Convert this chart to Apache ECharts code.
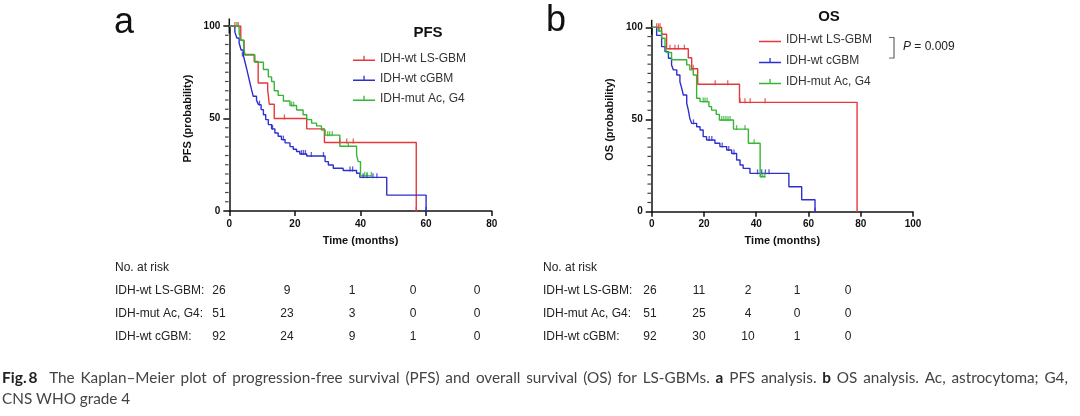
<!DOCTYPE html>
<html>
<head>
<meta charset="utf-8">
<script src="https://cdn.jsdelivr.net/npm/echarts@6.0.0/dist/echarts.min.js"></script>
<style>
  html, body { margin: 0; padding: 0; background: #fff; }
  #chart { width: 1080px; height: 416px; }
</style>
</head>
<body>
<div id="chart"></div>
<script>
// ---- data (months, % survival) ----
const groups = ['IDH-wt LS-GBM', 'IDH-wt cGBM', 'IDH-mut Ac, G4']

// PFS (panel a)
const pfsMonthsLs = [0, 3.5, 4.5, 7.6, 8.8, 11.7, 12.2, 13.7, 23.6, 29.0, 57.0]
const pfsSurvLs = [100, 92.3, 84.6, 80.8, 69.2, 65.4, 57.7, 50.0, 44.4, 37.0, 0]
const pfsCensLs = [[1.7, 100], [2.7, 100], [16.8, 50], [33.7, 37], [35.8, 37], [37.8, 37], [57.0, 0]]

const pfsMonthsCg = [0, 1.7, 2.3, 3.0, 3.6, 4.3, 4.8, 5.3, 5.8, 6.3, 6.8, 7.3, 8.3, 8.9, 9.7, 10.4, 11.1, 11.9, 12.9, 13.9, 14.9, 15.9, 17.0, 18.5, 19.5, 20.5, 21.5, 23.6, 29.2, 30.2, 31.7, 34.7, 38.8, 39.8, 48.0, 60.0]
const pfsSurvCg = [100, 96.7, 93.5, 90.8, 87.0, 84.0, 80.4, 76.8, 73.0, 69.2, 65.5, 62.0, 59.8, 57.5, 54.8, 52.0, 49.4, 46.7, 44.4, 42.2, 40.4, 38.6, 36.8, 34.8, 33.4, 32.2, 30.8, 29.7, 26.7, 24.9, 23.1, 21.9, 20.4, 18.2, 8.6, 0]
const pfsCensCg = [[4.0, 84.0], [9.2, 57.5], [13.2, 44.4], [16.5, 38.6], [22.0, 30.8], [22.6, 30.8], [23.2, 30.8], [25.0, 29.7], [28.7, 29.7], [36.8, 21.9], [37.6, 21.9], [40.8, 18.2], [42.0, 18.2], [43.8, 18.2], [45.0, 18.2], [60.0, 0]]

const pfsMonthsMut = [0, 3.0, 3.6, 4.4, 4.8, 7.8, 10.4, 11.9, 12.9, 13.7, 14.9, 16.5, 18.5, 20.5, 22.5, 23.6, 25.1, 26.6, 28.1, 29.2, 33.7, 38.8, 39.3, 40.0, 43.4]
const pfsSurvMut = [100, 96.1, 92.2, 88.2, 84.3, 80.4, 76.5, 72.5, 70.0, 65.0, 62.5, 59.5, 57.0, 54.6, 52.0, 49.4, 47.5, 46.0, 43.8, 41.0, 35.0, 30.3, 26.7, 19.0, 19.0]
const pfsCensMut = [[2.3, 100], [19.0, 57.0], [19.6, 57.0], [30.0, 41.0], [30.6, 41.0], [31.4, 41.0], [36.3, 35.0], [41.3, 19.0], [42.0, 19.0], [43.3, 19.0]]

// OS (panel b)
const osMonthsLs = [0, 3.8, 5.7, 14.0, 15.3, 17.6, 33.6, 78.6]
const osSurvLs = [100, 96.2, 88.4, 83.5, 77.5, 69.1, 59.3, 0]
const osCensLs = [[1.9, 100], [2.6, 100], [3.2, 100], [7.0, 88.4], [8.9, 88.4], [10.2, 88.4], [12.5, 88.4], [15.9, 77.5], [24.3, 69.1], [29.1, 69.1], [33.8, 59.3], [35.7, 59.3], [37.7, 59.3], [43.4, 59.3]]

const osMonthsCg = [0, 1.9, 3.8, 5.1, 6.4, 7.6, 8.3, 9.6, 10.8, 11.5, 12.1, 13.4, 14.0, 14.6, 15.3, 17.2, 18.5, 19.7, 21.0, 24.2, 26.1, 28.7, 30.6, 32.5, 33.8, 35.0, 37.6, 52.5, 57.4, 62.5]
const osSurvCg = [100, 95.6, 89.5, 86.8, 83.2, 79.6, 76.9, 74.1, 70.5, 66.9, 63.3, 58.8, 55.2, 50.6, 47.9, 46.1, 44.3, 40.7, 38.9, 37.1, 35.3, 33.5, 31.6, 28.0, 25.3, 23.5, 20.8, 13.5, 6.5, 0]
const osCensCg = [[16.0, 47.9], [22.0, 38.9], [23.0, 38.9], [27.0, 35.3], [29.5, 33.5], [31.5, 31.6], [40.5, 20.8], [42.1, 20.8], [43.5, 20.8], [44.9, 20.8], [62.5, 0]]

const osMonthsMut = [0, 2.5, 3.8, 5.1, 5.7, 7.6, 13.4, 14.6, 15.9, 17.2, 18.5, 21.9, 22.9, 24.7, 25.9, 31.3, 37.0, 41.5, 43.5]
const osSurvMut = [100, 98.0, 94.1, 90.2, 86.3, 82.4, 79.6, 76.9, 74.1, 61.5, 59.7, 57.0, 55.1, 52.8, 49.7, 44.8, 37.1, 19.0, 19.0]
const osCensMut = [[3.0, 98.0], [19.7, 59.7], [20.4, 59.7], [21.2, 59.7], [26.8, 49.7], [27.6, 49.7], [28.4, 49.7], [29.2, 49.7], [30.0, 49.7], [32.5, 44.8], [35.7, 44.8], [39.2, 37.1], [41.8, 19.0], [42.5, 19.0], [43.3, 19.0]]

// number at risk tables
const riskLabels = ['IDH-wt LS-GBM:', 'IDH-mut Ac, G4:', 'IDH-wt cGBM:']
const pfsRisk = [[26, 9, 1, 0, 0], [51, 23, 3, 0, 0], [92, 24, 9, 1, 0]]
const osRisk = [[26, 11, 2, 1, 0], [51, 25, 4, 0, 0], [92, 30, 10, 1, 0]]

const pfsTicks = [0, 20, 40, 60, 80]
const osTicks = [0, 20, 40, 60, 80, 100]

// ---- styling ----
const colors = ['#e5383b', '#2f2fcf', '#35b535']
const FONT = '"Liberation Sans", Arial, sans-serif'
const tickIcon = 'path://M0,0h0.05v0.05h-0.05z M0,9.95h0.05v0.05h-0.05z M0,6.3h22v1.4h-22z M10.4,2.5h1.3v4.5h-1.3z'
const lineIcon = 'path://M0,0h0.05v0.05h-0.05z M0,9.95h0.05v0.05h-0.05z M0,6.3h22v1.4h-22z'

const zip = (xs, ys) => xs.map((x, i) => [x, ys[i]])
// small y ticks every 5 % (drawn as tiny rects on the y axis)
const minorTickPts = []
for (let v = 5; v < 100; v += 5) if (v !== 50) minorTickPts.push([0, v])

const makeX = (gridIndex, ticks) => ({
  type: 'value', gridIndex,
  min: 0, max: ticks[ticks.length - 1], interval: 20,
  axisLine: { lineStyle: { color: '#111', width: 1.5 } },
  axisTick: { length: 5, lineStyle: { color: '#111', width: 1.5 } },
  axisLabel: { color: '#111', fontSize: 10, fontWeight: 'bold', fontFamily: FONT, margin: 8 },
  splitLine: { show: false },
  name: 'Time (months)', nameLocation: 'middle', nameGap: 24,
  nameTextStyle: { color: '#111', fontSize: 11, fontWeight: 'bold', fontFamily: FONT }
})
// y runs 0..100; a thin rect at the top end lets the axis line poke above 100
const makeY = (gridIndex, title) => ({
  type: 'value', gridIndex, min: 0, max: 100, interval: 50,
  axisLine: {
    show: true, onZero: false, lineStyle: { color: '#111', width: 1.5 },
    symbol: ['none', 'rect'], symbolSize: [1.5, 15], symbolOffset: [0, 0]
  },
  axisTick: { show: true, length: 6, lineStyle: { color: '#111', width: 1.5 } },
  axisLabel: { color: '#111', fontSize: 10, fontWeight: 'bold', fontFamily: FONT, margin: 9 },
  splitLine: { show: false },
  name: title, nameLocation: 'middle', nameRotate: 90, nameGap: 36,
  nameTextStyle: { color: '#111', fontSize: 11, fontWeight: 'bold', fontFamily: FONT }
})

const curve = (name, gi, data, color) => ({
  name, type: 'line', xAxisIndex: gi, yAxisIndex: gi, step: 'end',
  data, showSymbol: false, symbol: 'none', color,
  lineStyle: { color, width: 1.4 }, z: 3
})
const censors = (gi, data, color) => ({
  type: 'scatter', xAxisIndex: gi, yAxisIndex: gi, data,
  symbol: 'rect', symbolSize: [1.3, 5], symbolOffset: [0, -1.5],
  itemStyle: { color }, z: 4, silent: true
})
const minorTicks = (gi) => ({
  type: 'scatter', xAxisIndex: gi, yAxisIndex: gi, data: minorTickPts,
  symbol: 'rect', symbolSize: [3.5, 1.2], symbolOffset: [-2.5, 0],
  itemStyle: { color: '#111' }, clip: false, silent: true, z: 5
})

const series = [
  curve(groups[0], 0, zip(pfsMonthsLs, pfsSurvLs), colors[0]),
  curve(groups[1], 0, zip(pfsMonthsCg, pfsSurvCg), colors[1]),
  curve(groups[2], 0, zip(pfsMonthsMut, pfsSurvMut), colors[2]),
  censors(0, pfsCensLs, colors[0]),
  censors(0, pfsCensCg, colors[1]),
  censors(0, pfsCensMut, colors[2]),
  minorTicks(0),
  curve(groups[0], 1, zip(osMonthsLs, osSurvLs), colors[0]),
  curve(groups[1], 1, zip(osMonthsCg, osSurvCg), colors[1]),
  curve(groups[2], 1, zip(osMonthsMut, osSurvMut), colors[2]),
  censors(1, osCensLs, colors[0]),
  censors(1, osCensCg, colors[1]),
  censors(1, osCensMut, colors[2]),
  minorTicks(1)
]

const legendText = { color: '#333', fontSize: 12, fontFamily: FONT, lineHeight: 14 }

// risk table + labels as graphic text
const txt = (x, y, text, extra) => ({
  type: 'text', x, y, silent: true,
  style: Object.assign({ text, fill: '#222', font: '12px ' + FONT, verticalAlign: 'middle' }, extra || {})
})
const graphic = []
graphic.push(txt(114, 23, 'a', { font: '36px ' + FONT, fill: '#111' }))
graphic.push(txt(546, 21, 'b', { font: '36px ' + FONT, fill: '#111' }))
graphic.push(txt(428, 33, 'PFS', { font: 'bold 15px ' + FONT, fill: '#111', align: 'center' }))
graphic.push(txt(829, 17, 'OS', { font: 'bold 15px ' + FONT, fill: '#111', align: 'center' }))
graphic.push({ type: 'polyline', silent: true, shape: { points: [[889, 37.5], [894, 37.5], [894, 58], [889, 58]] }, style: { stroke: '#666', lineWidth: 1.2, fill: null } })
graphic.push({
  type: 'text', x: 903, y: 47, silent: true,
  style: { text: '{i|P }= 0.009', fill: '#222', font: '12px ' + FONT, verticalAlign: 'middle',
    rich: { i: { fontStyle: 'italic', fontSize: 12, fontFamily: FONT, fill: '#222' } } }
})

const tables = [
  { x: 115, cols: [219, 287, 352, 413, 477], risk: pfsRisk },
  { x: 543, cols: [650, 699, 748, 797, 848], risk: osRisk }
]
const rowY = [291, 314, 337]
tables.forEach(t => {
  graphic.push(txt(t.x, 268, 'No. at risk'))
  riskLabels.forEach((lab, r) => {
    graphic.push(txt(t.x, rowY[r], lab))
    t.risk[r].forEach((n, c) => graphic.push(txt(t.cols[c], rowY[r], String(n), { align: 'center' })))
  })
})

// caption is justified in the source, so widen the word gaps a little
const CAP = 'Lato, "Open Sans", sans-serif'
const wide = s => s.replace(/ /g, ' \u2009')
graphic.push({
  type: 'text', x: 2, y: 378, silent: true,
  style: {
    text: '{f|Fig.\u20098}' + wide('  The Kaplan\u2013Meier plot of progression-free survival (PFS) and overall survival (OS) for LS-GBMs. ') +
      '{b|a}' + wide(' PFS analysis. ') + '{b|b}' + wide(' OS analysis. Ac, astrocytoma; G4,'),
    font: '15.3px ' + CAP, fill: '#444', verticalAlign: 'middle',
    rich: {
      f: { fontWeight: 'bold', fontSize: 15.5, fontFamily: CAP, fill: '#222' },
      b: { fontWeight: 'bold', fontSize: 15.3, fontFamily: CAP, fill: '#222' }
    }
  }
})
graphic.push(txt(2, 399, 'CNS WHO grade 4', { font: '15.3px ' + CAP, fill: '#444' }))

const chart = echarts.init(document.getElementById('chart'), null, { renderer: 'canvas' })
chart.setOption({
  animation: false,
  backgroundColor: '#fff',
  grid: [
    { left: 229.3, top: 26, width: 262.4, height: 185 },
    { left: 651.7, top: 27.3, width: 261.3, height: 184.4 }
  ],
  xAxis: [makeX(0, pfsTicks), makeX(1, osTicks)],
  yAxis: [makeY(0, 'PFS (probability)'), makeY(1, 'OS (probability)')],
  legend: [
    {
      left: 353, top: 51.3, padding: 0, orient: 'vertical', itemWidth: 22, itemHeight: 10, itemGap: 6,
      selectedMode: false, itemStyle: { borderWidth: 0 }, textStyle: legendText,
      data: groups.map(n => ({ name: n, icon: tickIcon }))
    },
    {
      left: 759, top: 32.5, padding: 0, orient: 'vertical', itemWidth: 22, itemHeight: 10, itemGap: 7,
      selectedMode: false, itemStyle: { borderWidth: 0 }, textStyle: legendText,
      data: groups.map((n, i) => ({ name: n, icon: i === 0 ? lineIcon : tickIcon }))
    }
  ],
  series,
  graphic
})
</script>
</body>
</html>
